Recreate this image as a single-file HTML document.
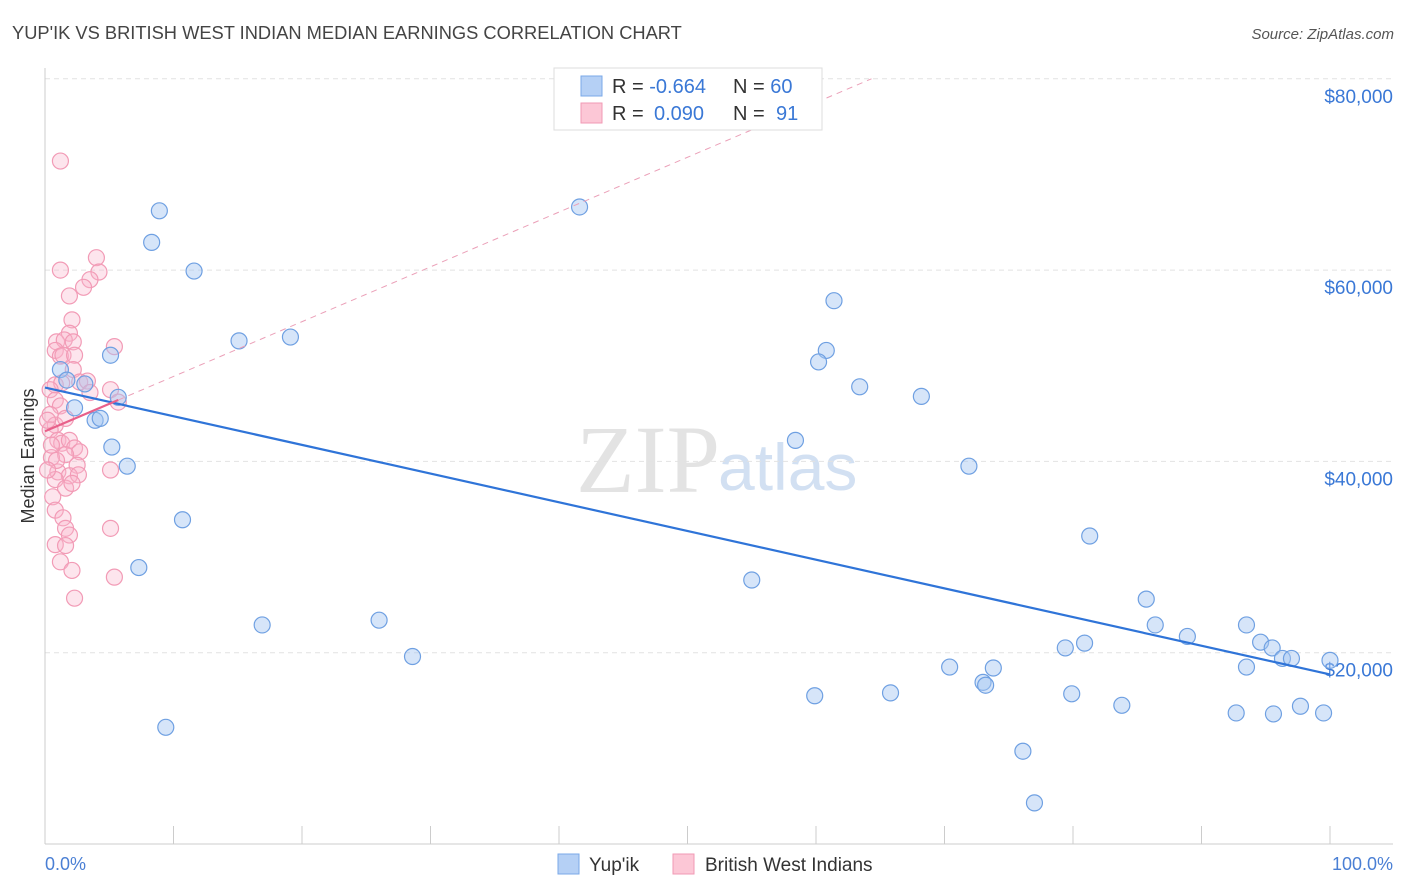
<!DOCTYPE html>
<html><head><meta charset="utf-8"><style>
body{margin:0;background:#fff;font-family:"Liberation Sans",sans-serif;}
#wrap{position:relative;width:1406px;height:892px;overflow:hidden;}
</style></head><body>
<div id="wrap">
<svg id="chart" width="1406" height="892" xmlns="http://www.w3.org/2000/svg">
<text x="12" y="39" font-size="18.3" fill="#444">YUP'IK VS BRITISH WEST INDIAN MEDIAN EARNINGS CORRELATION CHART</text>
<text x="1394" y="39" font-size="15" fill="#555" font-style="italic" text-anchor="end">Source: ZipAtlas.com</text>
<text x="720" y="492" font-size="96" fill="#ddd" font-family="Liberation Serif" text-anchor="end" opacity="0.8">ZIP</text>
<text x="718" y="490" font-size="66" fill="#c8d9ef" opacity="0.8">atlas</text>
<g id="grid"></g>
<g id="marks"></g>
<text transform="translate(34,456) rotate(-90)" font-size="18" fill="#333" text-anchor="middle">Median Earnings</text>
<text x="45" y="870" font-size="18" fill="#4a7fd4">0.0%</text>
<text x="1393" y="870" font-size="18" fill="#4a7fd4" text-anchor="end">100.0%</text>
<g>
<rect x="554" y="68" width="268" height="62" fill="#fff" stroke="#ddd"/>
<rect x="581" y="76" width="21" height="20" fill="#b5d0f5" stroke="#7aa8e8"/>
<rect x="581" y="103" width="21" height="20" fill="#fcc7d6" stroke="#f19ab4"/>
<text x="612" y="93" font-size="20" fill="#333">R = <tspan fill="#3a78d6">-0.664</tspan><tspan x="733">N = </tspan><tspan fill="#3a78d6">60</tspan></text>
<text x="612" y="120" font-size="20" fill="#333">R = <tspan x="654" fill="#3a78d6">0.090</tspan><tspan x="733">N = </tspan><tspan x="776" fill="#3a78d6">91</tspan></text>
</g>
<g>
<rect x="558" y="854" width="21" height="20" fill="#b5d0f5" stroke="#7aa8e8"/>
<text x="589" y="871" font-size="19" fill="#333">Yup'ik</text>
<rect x="673" y="854" width="21" height="20" fill="#fcc7d6" stroke="#f19ab4"/>
<text x="705" y="871" font-size="19" fill="#333">British West Indians</text>
</g>
</svg>
</div>
<script>
const yTicks=[20000,40000,60000,80000];
const yTickLabels=["$20,000","$40,000","$60,000","$80,000"];
const xTicks=[0,10,20,30,40,50,60,70,80,90,100];
const blueX=[1.2,1.7,5.1,3.1,2.3,3.9,4.3,5.2,6.4,5.7,8.3,8.9,11.6,15.1,19.1,10.7,7.3,9.4,16.9,26.0,28.6,41.6,61.4,60.8,60.2,63.4,68.2,58.4,71.9,55.0,59.9,65.8,70.4,73.0,73.2,73.8,76.1,77.0,79.4,80.9,81.3,79.9,83.8,85.7,86.4,88.9,92.7,93.5,93.5,94.6,95.5,95.6,96.3,97.0,97.7,99.5,100];
const blueY=[49600,48500,51100,48100,45600,44300,44500,41500,39500,46700,62900,66200,59900,52600,53000,33900,28900,12200,22900,23400,19600,66600,56800,51600,50400,47800,46800,42200,39500,27600,15500,15800,18500,16900,16600,18400,9700,4300,20500,21000,32200,15700,14500,25600,22900,21700,13700,22900,18500,21100,20500,13600,19400,19400,14400,13700,19200];
const pinkX=[1.2,1.2,4.0,4.2,3.5,3.0,1.9,2.1,1.9,0.9,1.5,2.2,0.8,1.2,5.4,1.4,2.3,2.2,0.8,1.3,2.7,3.3,5.1,3.5,5.7,0.4,0.8,1.2,0.4,0.8,1.6,0.4,1.0,1.3,1.9,2.3,2.7,1.6,0.5,2.5,1.0,1.9,5.1,2.6,0.8,1.6,2.1,0.6,0.8,1.4,1.6,1.9,5.1,0.8,1.6,1.2,2.1,5.4,2.3,0.2,0.5,0.9,0.2];
const pinkY=[71400,60000,61300,59800,59000,58200,57300,54800,53400,52500,52700,52500,51600,51000,52000,51100,51100,49600,48000,48200,48300,48400,47500,47200,46200,47500,46400,45800,44900,43800,44500,43300,42200,41900,42200,41400,41000,40700,40400,39600,38900,38500,39100,38600,38100,37200,37700,36300,34900,34100,33000,32300,33000,31300,31200,29500,28600,27900,25700,44300,41700,40100,39100];
const NS="http://www.w3.org/2000/svg";
const X0=45,X1=1330,YB=844,PX=191.3/20000;
const sx=v=>X0+(X1-X0)*v/100;
const sy=v=>YB-v*PX;
function mk(tag,attrs,parent){const e=document.createElementNS(NS,tag);for(const k in attrs)e.setAttribute(k,attrs[k]);parent.appendChild(e);return e;}
const grid=document.getElementById('grid'),marks=document.getElementById('marks');
yTicks.forEach((t,i)=>{
 const l=mk('line',{x1:X0,x2:1393,y1:sy(t),y2:sy(t),stroke:'#e2e2e2','stroke-dasharray':'5,4'},grid);
 
 
 const tx=mk('text',{x:1393,y:sy(t)+24,'font-size':19,fill:'#3a78d6','text-anchor':'end'},grid);
 tx.textContent=yTickLabels[i];
 
 
});
const ax=mk('line',{x1:X0,x2:X0,y1:68,y2:YB,stroke:'#ccc'},grid);


const bx=mk('line',{x1:X0,x2:1393,y1:YB,y2:YB,stroke:'#ccc'},grid);


xTicks.forEach(t=>{
 const l=mk('line',{x1:sx(t),x2:sx(t),y1:826,y2:YB,stroke:'#ccc'},grid);
 
 
});
function reg(xs,ys){const n=xs.length;let mx=0,my=0;for(let i=0;i<n;i++){mx+=xs[i];my+=ys[i];}mx/=n;my/=n;let sxy=0,sxx=0;for(let i=0;i<n;i++){sxy+=(xs[i]-mx)*(ys[i]-my);sxx+=(xs[i]-mx)**2;}const b=sxy/sxx;return [my-b*mx,b];}
pinkX.forEach((x,i)=>{
 const c=mk('circle',{cx:sx(x),cy:sy(pinkY[i]),r:8,fill:'rgba(248,180,202,0.35)',stroke:'#f29bb6','stroke-width':1.2},marks);
 
 
});
blueX.forEach((x,i)=>{
 const c=mk('circle',{cx:sx(x),cy:sy(blueY[i]),r:8,fill:'rgba(165,198,242,0.45)',stroke:'#6fa0e2','stroke-width':1.2},marks);
 
 
});
const [ba,bb]=reg(blueX,blueY);
const bl=mk('line',{x1:sx(0),y1:sy(ba),x2:sx(100),y2:sy(ba+bb*100),stroke:'#2f74d8','stroke-width':2.2},marks);


const [pa,pb]=reg(pinkX,pinkY);
const pmax=Math.max(...pinkX);
let xe=Math.min(100,(80000-pa)/pb);if(!(xe>0))xe=100;
const pd=mk('line',{x1:sx(pmax),y1:sy(pa+pb*pmax),x2:sx(xe),y2:sy(pa+pb*xe),stroke:'#eba0b8','stroke-width':1,'stroke-dasharray':'6,5'},marks);


const pl=mk('line',{x1:sx(0),y1:sy(pa),x2:sx(pmax),y2:sy(pa+pb*pmax),stroke:'#e8608a','stroke-width':2.2},marks);


</script>
</body></html>
